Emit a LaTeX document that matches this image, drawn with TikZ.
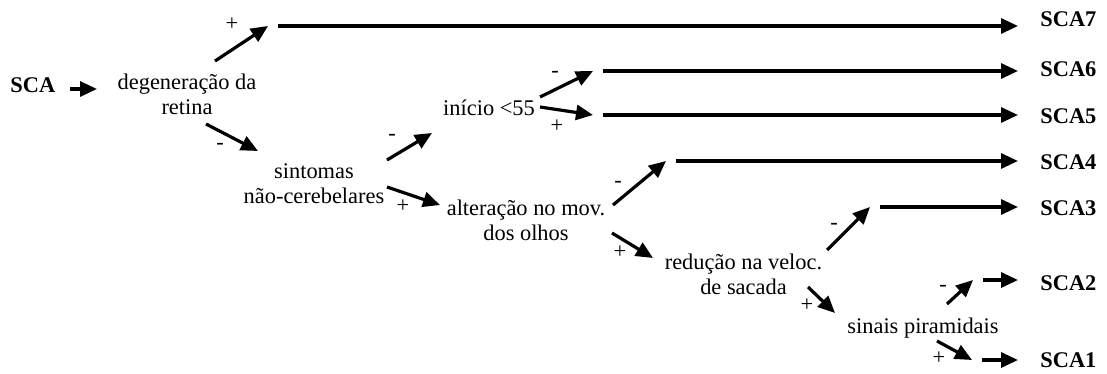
\documentclass[tikz,border=0pt]{standalone}
\usepackage{fontspec}
\setmainfont{Liberation Serif}
\usetikzlibrary{arrows.meta}

\begin{document}
\begin{tikzpicture}[x=0.5pt, y=-0.5pt,
		txt/.style={inner sep=0, align=center, font=\fontsize{11.2pt}{12.5pt}\selectfont},
		sinal/.style={inner sep=0, font=\fontsize{11.2pt}{12.5pt}\selectfont},
		tipo/.style={inner sep=0, anchor=west, font=\fontsize{11.2pt}{12.5pt}\selectfont\bfseries},
		seta/.style={line width=1.6pt, -{Triangle[length=8.5pt, width=7.5pt]}},
		ramo/.style={seta, shorten <=5pt, shorten >=11pt}]
		%%%%% START %%%%%
		
		\useasboundingbox (0, 0) rectangle (1107, 374);
		
		\node[tipo] (sca) at (10, 85) {SCA};
		\node[txt] (deg) at (187, 94) {degeneração da\\retina};
		\node[txt] (sint) at (314, 184) {sintomas\\não-cerebelares};
		\node[txt] (ini) at (489, 107.5) {início <55};
		\node[txt] (alt) at (526, 220) {alteração no mov.\\dos olhos};
		\node[txt] (red) at (743.5, 274) {redução na veloc.\\de sacada};
		\node[txt] (sin) at (923, 328) {sinais piramidais};
		
		\node[tipo] (sca7) at (1040, 19.5) {SCA7};
		\node[tipo] (sca6) at (1040, 69.5) {SCA6};
		\node[tipo] (sca5) at (1040, 116) {SCA5};
		\node[tipo] (sca4) at (1040, 162) {SCA4};
		\node[tipo] (sca3) at (1040, 208) {SCA3};
		\node[tipo] (sca2) at (1040, 283) {SCA2};
		\node[tipo] (sca1) at (1040, 360) {SCA1};
		
		% pontas das setas
		\coordinate (sca-o) at (70, 89);
		\coordinate (deg-i) at (97, 89);
		\coordinate (deg-a) at (215, 61);
		\coordinate (r7) at (268, 26);
		\coordinate (deg-b) at (206, 124);
		\coordinate (sint-i) at (258, 151);
		\coordinate (sint-a) at (387, 160);
		\coordinate (ini-i) at (432, 133);
		\coordinate (ini-a) at (540, 97);
		\coordinate (r6) at (593, 71);
		\coordinate (ini-b) at (540, 107);
		\coordinate (r5) at (593, 115);
		\coordinate (sint-b) at (387, 187);
		\coordinate (alt-i) at (440, 205);
		\coordinate (alt-a) at (613, 205);
		\coordinate (r4) at (666, 161);
		\coordinate (alt-b) at (612, 233);
		\coordinate (red-i) at (653, 258);
		\coordinate (red-a) at (827, 250);
		\coordinate (r3) at (870, 207);
		\coordinate (red-b) at (808, 287);
		\coordinate (sin-i) at (835, 313);
		\coordinate (sin-a) at (947, 304);
		\coordinate (r2) at (973, 280);
		\coordinate (sin-b) at (937, 341);
		\coordinate (r1) at (972, 360);
		
		\draw[seta] (sca-o) -- (deg-i);
		\draw[seta] (deg-a) -- (r7);
		\draw[seta] (deg-b) -- (sint-i);
		\draw[seta] (sint-a) -- (ini-i);
		\draw[seta] (ini-a) -- (r6);
		\draw[seta] (ini-b) -- (r5);
		\draw[seta] (sint-b) -- (alt-i);
		\draw[seta] (alt-a) -- (r4);
		\draw[seta] (alt-b) -- (red-i);
		\draw[seta] (red-a) -- (r3);
		\draw[seta] (red-b) -- (sin-i);
		\draw[seta] (sin-a) -- (r2);
		\draw[seta] (sin-b) -- (r1);
		
		\draw[ramo] (r7) -- (r7 -| sca7.west);
		\draw[ramo] (r6) -- (r6 -| sca6.west);
		\draw[ramo] (r5) -- (r5 -| sca5.west);
		\draw[ramo] (r4) -- (r4 -| sca4.west);
		\draw[ramo] (r3) -- (r3 -| sca3.west);
		\draw[ramo] (r2) -- (r2 -| sca2.west);
		\draw[ramo] (r1) -- (r1 -| sca1.west);
		
		\node[sinal] (s-deg-a) at (232, 24) {+};
		\node[sinal] (s-deg-b) at (220, 146) {-};
		\node[sinal] (s-sint-a) at (392, 137) {-};
		\node[sinal] (s-ini-a) at (555, 74) {-};
		\node[sinal] (s-ini-b) at (557, 126) {+};
		\node[sinal] (s-sint-b) at (403, 206) {+};
		\node[sinal] (s-alt-a) at (618, 184) {-};
		\node[sinal] (s-alt-b) at (620, 252) {+};
		\node[sinal] (s-red-a) at (834, 226) {-};
		\node[sinal] (s-red-b) at (807, 305) {+};
		\node[sinal] (s-sin-a) at (943, 288) {-};
		\node[sinal] (s-sin-b) at (939, 358) {+};
		
		%%%%% END %%%%%
\end{tikzpicture}
\end{document}
